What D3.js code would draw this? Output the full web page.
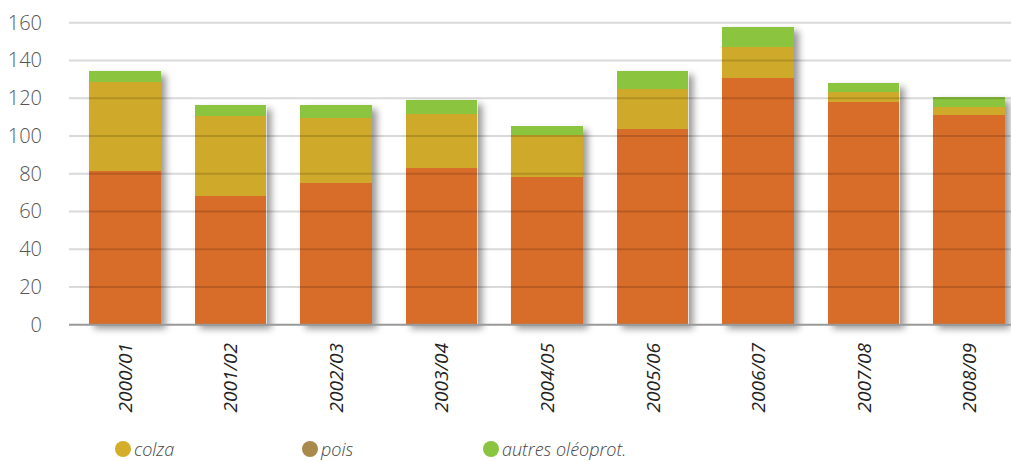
<!DOCTYPE html>
<html>
<head>
<meta charset="utf-8">
<script src="https://cdn.jsdelivr.net/npm/d3@7"></script>
<style>
  body { margin: 0; background: #fff; }
  svg text { font-family: "Open Sans", "DejaVu Sans", sans-serif; }
</style>
</head>
<body>
<div id="chart"></div>
<script>
// ── Data ─────────────────────────────────────────────────────────────
const years  = ['2000/01','2001/02','2002/03','2003/04','2004/05','2005/06','2006/07','2007/08','2008/09'];
const base   = [81.4, 68.2, 75.1, 83.0, 78.2, 103.7, 130.9, 118.0, 111.1];   // orange, no legend entry
const colza  = [47.3, 42.6, 34.4, 28.8, 22.3, 21.2, 16.2, 5.3, 4.2];
const pois   = [0, 0, 0, 0, 0, 0, 0, 0, 0];
const autres = [5.7, 5.5, 6.8, 7.1, 4.8, 9.5, 10.6, 4.7, 5.3];
const yTicks = [0, 20, 40, 60, 80, 100, 120, 140, 160];

const keys   = ['base', 'colza', 'pois', 'autres'];
const colors = { base: '#d86c29', colza: '#cfaa2a', pois: '#a98a4b', autres: '#8bc43f' };
const legend = [
  { key: 'colza',  label: 'colza',            x: 123, color: '#d4ae2a' },
  { key: 'pois',   label: 'pois',             x: 310, color: '#a98a4b' },
  { key: 'autres', label: 'autres oléoprot.', x: 491, color: '#8bc43f' }
];

const W = 1011, H = 461;
const rows = years.map((y, i) => ({ year: y, base: base[i], colza: colza[i], pois: pois[i], autres: autres[i] }));

const svg = d3.select('#chart').append('svg').attr('width', W).attr('height', H);

// ── Shadow filter ────────────────────────────────────────────────────
svg.append('defs').append('filter').attr('id', 'shadow')
    .attr('x', '-10%').attr('y', '-10%').attr('width', '130%').attr('height', '130%')
  .append('feDropShadow')
    .attr('dx', 5).attr('dy', 4).attr('stdDeviation', 3.5)
    .attr('flood-color', '#000').attr('flood-opacity', 0.4);

// ── Scales ───────────────────────────────────────────────────────────
const x = d3.scaleBand().domain(years).range([69, 1025]).paddingInner(0.32).paddingOuter(0.19);
const y = d3.scaleLinear().domain([0, 160]).range([324.7, 22.7]);

const stack = d3.stack().keys(keys)(rows);

// ── Bars ─────────────────────────────────────────────────────────────
const barsG = svg.append('g');
// shadow underlay per bar (whole column)
barsG.selectAll('rect.sh')
  .data(rows)
  .join('rect')
    .attr('class', 'sh')
    .attr('x', d => x(d.year))
    .attr('width', x.bandwidth())
    .attr('y', d => y(d.base + d.colza + d.pois + d.autres))
    .attr('height', d => y(0) - y(d.base + d.colza + d.pois + d.autres))
    .attr('fill', '#fff')
    .attr('filter', 'url(#shadow)');

barsG.selectAll('g.layer')
  .data(stack)
  .join('g')
    .attr('class', 'layer')
    .attr('fill', d => colors[d.key])
    .attr('shape-rendering', 'crispEdges')
  .selectAll('rect')
  .data(d => d)
  .join('rect')
    .attr('x', d => x(d.data.year))
    .attr('width', x.bandwidth())
    .attr('y', d => y(d[1]))
    .attr('height', d => y(d[0]) - y(d[1]));

// ── Grid lines (drawn over bars) ─────────────────────────────────────
svg.append('g')
  .selectAll('line')
  .data(yTicks.filter(t => t > 0))
  .join('line')
    .attr('x1', 69).attr('x2', W)
    .attr('y1', d => y(d)).attr('y2', d => y(d))
    .attr('stroke', '#000').attr('stroke-opacity', 0.15).attr('stroke-width', 2);

svg.append('line')
  .attr('x1', 69).attr('x2', W)
  .attr('y1', y(0)).attr('y2', y(0))
  .attr('stroke', '#999').attr('stroke-width', 2);

// ── Y axis labels ────────────────────────────────────────────────────
svg.append('g')
  .selectAll('text')
  .data(yTicks)
  .join('text')
    .attr('x', 42).attr('y', d => y(d) + 7)
    .attr('text-anchor', 'end')
    .attr('font-size', 20).attr('font-weight', 300)
    .attr('fill', '#555')
    .text(d => d);

// ── X axis labels ────────────────────────────────────────────────────
svg.append('g')
  .selectAll('text')
  .data(years)
  .join('text')
    .attr('transform', d => `translate(${x(d) + x.bandwidth() / 2 + 7}, 343) rotate(-90)`)
    .attr('text-anchor', 'end')
    .attr('font-size', 19).attr('font-style', 'italic')
    .attr('fill', '#222')
    .text(d => d);

// ── Legend ───────────────────────────────────────────────────────────
const lg = svg.append('g').selectAll('g').data(legend).join('g')
  .attr('transform', d => `translate(${d.x}, 449)`);
lg.append('circle').attr('r', 8).attr('fill', d => d.color);
lg.append('text')
  .attr('x', 11).attr('y', 7)
  .attr('font-size', 18).attr('font-style', 'italic').attr('font-weight', 300)
  .attr('fill', '#444')
  .text(d => d.label);
</script>
</body>
</html>
